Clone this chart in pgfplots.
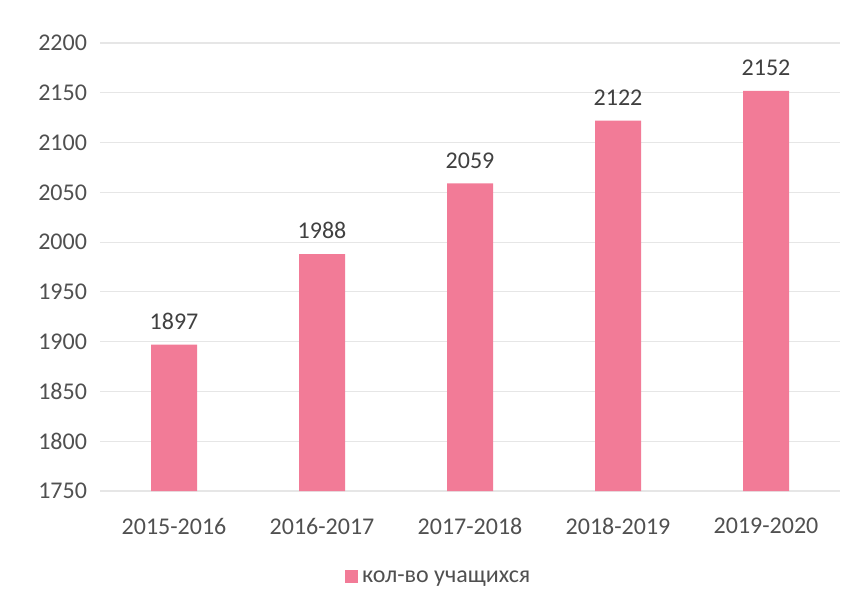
\documentclass[border=0pt]{standalone}
\usepackage{fontspec}
\setmainfont{Carlito}
\usepackage{pgfplots}
\pgfplotsset{compat=1.18}
\definecolor{barpink}{HTML}{F27B97}
\definecolor{txt}{HTML}{505050}
\definecolor{lbl}{HTML}{404040}
\definecolor{gridc}{HTML}{E6E6E6}
\begin{document}
\begin{tikzpicture}
\begin{axis}[
  scale only axis,
  width=370pt, height=224pt,
  ybar, bar width=23pt,
  xmin=-0.5, xmax=4.5,
  ymin=1750, ymax=2200,
  ytick={1750,1800,...,2200},
  xtick={0,1,2,3,4},
  xticklabels={2015-2016,2016-2017,2017-2018,2018-2019,2019-2020},
  axis line style={draw=none},
  major tick length=0pt,
  ymajorgrids, xmajorgrids=false,
  major grid style={draw=gridc, line width=0.6pt},
  yticklabel style={font=\fontsize{12}{14}\selectfont, text=txt, /pgf/number format/1000 sep={}, /pgf/number format/assume math mode=true, xshift=-3pt},
  xticklabel style={font=\fontsize{12}{14}\selectfont, text=txt, yshift=-10pt},
  nodes near coords,
  nodes near coords style={font=\fontsize{12}{14}\selectfont, text=lbl, /pgf/number format/1000 sep={}, /pgf/number format/assume math mode=true, anchor=south, yshift=4pt},
  legend style={at={(0.459,-0.194)}, anchor=center, draw=none, font=\fontsize{12}{14}\selectfont, text=txt},
  legend image code/.code={\fill[barpink] (0cm,-0.09cm) rectangle (0.23cm,0.14cm);},
]
\addplot[fill=barpink, draw=none] coordinates {(0,1897) (1,1988) (2,2059) (3,2122) (4,2152)};
\addlegendentry{кол-во учащихся}
\end{axis}
\path[use as bounding box] (-50pt,-57.5pt) rectangle (377.5pt,245.5pt);
\end{tikzpicture}
\end{document}
